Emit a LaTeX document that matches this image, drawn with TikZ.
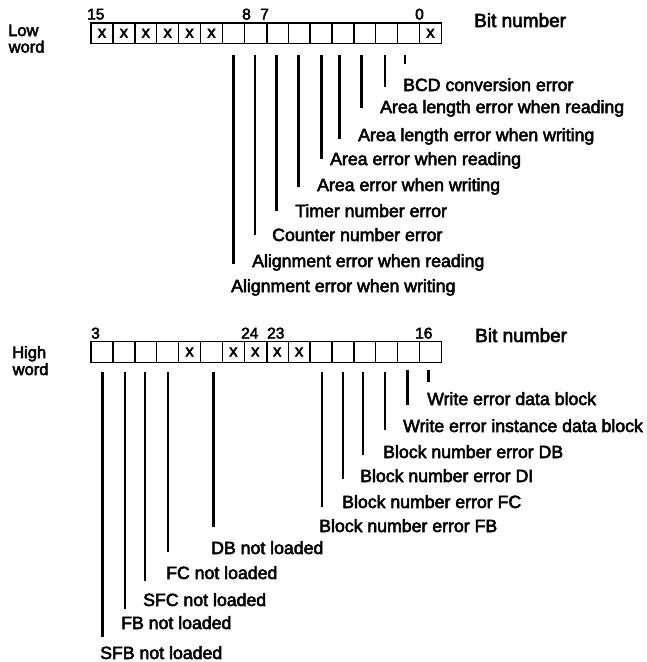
\documentclass[tikz,border=0pt]{standalone}
\usepackage{fontspec}
\newfontfamily\lab{Liberation Sans}[FakeBold=3]
\begin{document}
\begin{tikzpicture}[x=1pt,y=-1pt,
  lbl/.style={anchor=base west,inner sep=0,font=\lab\fontsize{17.7}{20}\selectfont},
  big/.style={anchor=base west,inner sep=0,font=\lab\fontsize{19}{22}\selectfont},
  side/.style={anchor=base west,inner sep=0,font=\lab\fontsize{16.5}{20}\selectfont},
  num/.style={anchor=base west,inner sep=0,font=\lab\fontsize{15.5}{18}\selectfont},
  cell/.style={draw,line width=1.3pt,minimum width=21.9pt,minimum height=20.5pt,inner sep=0,font=\lab\fontsize{16.5}{16}\selectfont},
  thk/.style={line width=3pt},
  thn/.style={line width=1.4pt}]
\useasboundingbox (0,0) rectangle (647,662);
\fill[white] (0,0) rectangle (647,662);
% ---------- Low word ----------
\foreach \i/\t in {0/x,1/x,2/x,3/x,4/x,5/x,6/,7/,8/,9/,10/,11/,12/,13/,14/,15/x}
  \node[cell] (L\i) at ({102+21.9*\i},33.25) {\t};
\draw[line width=2.7pt] (L7.north east) -- (L7.south east);
\node[side] (lowa) at (8,36) {Low};
\node[side] (lowb) at (8.5,52.5) {word};
\node[num] (l15) at (87,19.5) {15};
\node[num] (l8) at (242,19.5) {8};
\node[num] (l7) at (260,19.5) {7};
\node[num] (l0) at (415,19.5) {0};
\node[big] (lbit) at (474,27) {Bit number};
\node[lbl] (t1) at (403,91) {BCD conversion error};
\node[lbl] (t2) at (380,113) {Area length error when reading};
\node[lbl] (t3) at (358,141) {Area length error when writing};
\node[lbl] (t4) at (330,165) {Area error when reading};
\node[lbl] (t5) at (317,191) {Area error when writing};
\node[lbl] (t6) at (295,217) {Timer number error};
\node[lbl] (t7) at (272,241) {Counter number error};
\node[lbl] (t8) at (252,267) {Alignment error when reading};
\node[lbl] (t9) at (231,292) {Alignment error when writing};
\draw[thk] (233,55) -- (233,264);
\draw[thn] (255,55) -- (255,235);
\draw[thk] (276,55) -- (276,211);
\draw[thk] (298,55) -- (298,187);
\draw[thk] (321,55) -- (321,159);
\draw[thk] (339,55) -- (339,139);
\draw[thk] (361,55) -- (361,108);
\draw[thn] (385,55) -- (385,87);
\draw[thn] (405,55) -- (405,64);
% ---------- High word ----------
\foreach \i/\t in {0/,1/,2/,3/,4/x,5/,6/x,7/x,8/x,9/x,10/,11/,12/,13/,14/,15/}
  \node[cell] (H\i) at ({102+21.9*\i},352) {\t};
\draw[line width=2.7pt] (H7.north east) -- (H7.south east);
\node[side] (higha) at (12,358) {High};
\node[side] (highb) at (12.5,375) {word};
\node[num] (h31) at (91,338.5) {3};
\node[num] (h24) at (241,338.5) {24};
\node[num] (h23) at (267,338.5) {23};
\node[num] (h16) at (415,338.5) {16};
\node[big] (hbit) at (475,342) {Bit number};
\node[lbl] (u1) at (427,405) {Write error data block};
\node[lbl] (u2) at (403,432) {Write error instance data block};
\node[lbl] (u3) at (383,458) {Block number error DB};
\node[lbl] (u4) at (360,482) {Block number error DI};
\node[lbl] (u5) at (342,508) {Block number error FC};
\node[lbl] (u6) at (319,532) {Block number error FB};
\node[lbl] (u7) at (211,554) {DB not loaded};
\node[lbl] (u8) at (166,579) {FC not loaded};
\node[lbl] (u9) at (143,606) {SFC not loaded};
\node[lbl] (u10) at (121,629) {FB not loaded};
\node[lbl] (u11) at (100,659) {SFB not loaded};
\draw[thk] (102,372) -- (102,637);
\draw[thn] (125,372) -- (125,609);
\draw[thn] (145,372) -- (145,581);
\draw[thn] (168,372) -- (168,552);
\draw[thk] (213,372) -- (213,527);
\draw[thn] (322,372) -- (322,507);
\draw[thn] (343,372) -- (343,479);
\draw[thn] (363,372) -- (363,455);
\draw[thn] (385,372) -- (385,430);
\draw[thk] (407,370) -- (407,405);
\draw[thk] (428,370) -- (428,382);
\end{tikzpicture}
\end{document}
